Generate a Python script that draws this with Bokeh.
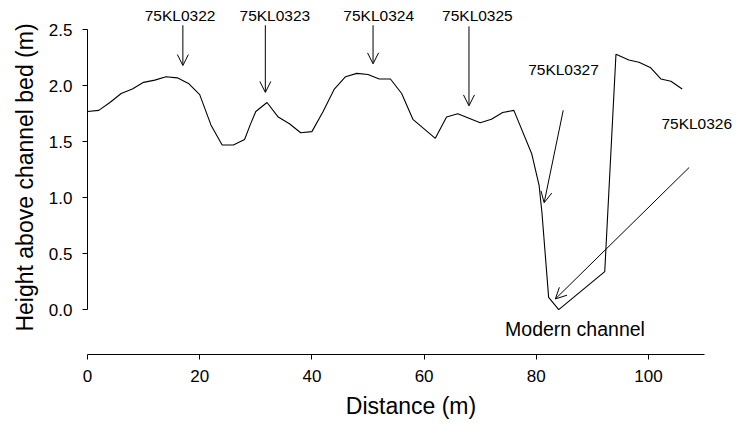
from bokeh.plotting import figure
from bokeh.models import Arrow, OpenHead, Label, Range1d, FixedTicker, NumeralTickFormatter
from bokeh.embed import file_html
from bokeh.resources import INLINE

# ---- data ----
distance = [0, 2, 4, 6, 8, 10, 12, 14, 16, 18, 20, 22, 24, 26, 28, 29, 30, 32, 34, 36,
            38, 40, 42, 44, 46, 48, 50, 52, 54, 56, 58, 62, 64, 66, 70, 72, 74, 76,
            79.2, 80.5, 81, 82.2, 84, 92.2, 94.2, 96.5, 98.3, 100.4, 102.2, 104, 106]
height = [1.77, 1.78, 1.85, 1.93, 1.97, 2.03, 2.05, 2.08, 2.07, 2.02, 1.92, 1.65, 1.47, 1.47,
          1.52, 1.65, 1.77, 1.85, 1.72, 1.66, 1.58, 1.59, 1.77, 1.97, 2.08, 2.11, 2.10, 2.06,
          2.06, 1.93, 1.70, 1.53, 1.72, 1.75, 1.67, 1.70, 1.76, 1.78,
          1.39, 1.11, 0.87, 0.11, 0.0, 0.34, 2.28, 2.23, 2.21, 2.16, 2.06, 2.04, 1.97]

x_ticks = [0, 20, 40, 60, 80, 100]
y_ticks = [0.0, 0.5, 1.0, 1.5, 2.0, 2.5]

sample_names = ["75KL0322", "75KL0323", "75KL0324", "75KL0325", "75KL0327", "75KL0326"]

FONT = "Liberation Sans"

p = figure(width=734, height=425, output_backend="svg", toolbar_location=None,
           x_range=Range1d(0, 115.33), y_range=Range1d(-0.4, 2.7607),
           min_border_left=87, min_border_right=0, min_border_top=0, min_border_bottom=71)
p.outline_line_color = None
p.grid.visible = False
p.background_fill_color = "white"

p.line(distance, height, line_color="black", line_width=1.1)

for ax in (p.xaxis[0], p.yaxis[0]):
    ax.axis_line_color = "black"
    ax.axis_line_width = 1
    ax.major_tick_line_color = "black"
    ax.major_tick_in = 0
    ax.major_tick_out = 5
    ax.minor_tick_line_color = None
    ax.major_label_text_font = FONT
    ax.major_label_text_font_size = "17px"
    ax.major_label_text_color = "black"
    ax.axis_label_text_font = FONT
    ax.axis_label_text_font_size = "23px"
    ax.axis_label_text_font_style = "normal"
    ax.axis_label_text_color = "black"

p.xaxis.bounds = (0, 110)
p.xaxis.ticker = FixedTicker(ticks=x_ticks)
p.xaxis.axis_label = "Distance (m)"
p.xaxis.major_label_standoff = 10
p.xaxis.axis_label_standoff = 8

p.yaxis.bounds = (0, 2.5)
p.yaxis.ticker = FixedTicker(ticks=y_ticks)
p.yaxis.formatter = NumeralTickFormatter(format="0.0")
p.yaxis.axis_label = "Height above channel bed (m)"
p.yaxis.major_label_standoff = 10
p.yaxis.axis_label_standoff = 8

# ---- annotations: arrows (start -> tip) and labels ----
arrows = [((17, 2.54), (17, 2.18)),
          ((31.7, 2.54), (31.7, 1.94)),
          ((50.9, 2.54), (50.9, 2.195)),
          ((68.0, 2.53), (68.0, 1.82)),
          ((84.8, 1.78), (81.4, 0.955)),
          ((107.25, 1.27), (83.4, 0.096))]
for (xs, ys), (xe, ye) in arrows:
    p.add_layout(Arrow(x_start=xs, y_start=ys, x_end=xe, y_end=ye,
                       line_color="black", line_width=1,
                       end=OpenHead(size=11, line_color="black", line_width=1)))

label_pos = [(16.5, 2.63), (33.4, 2.63), (51.9, 2.63), (69.5, 2.63), (84.85, 2.143), (108.6, 1.665)]
for name, (lx, ly) in zip(sample_names, label_pos):
    p.add_layout(Label(x=lx, y=ly, text=name, text_align="center", text_baseline="middle",
                       text_font=FONT, text_font_size="15.5px", text_color="black"))

p.add_layout(Label(x=86.9, y=-0.174, text="Modern channel", text_align="center",
                   text_baseline="middle", text_font=FONT, text_font_size="19.5px",
                   text_color="black"))

open("out.html", "w").write(file_html(p, INLINE))
